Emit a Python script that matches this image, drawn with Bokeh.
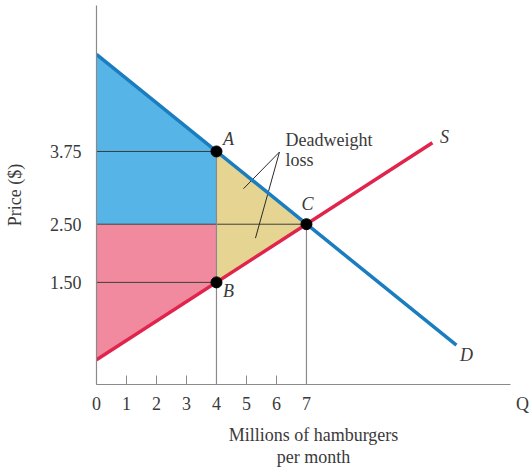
from bokeh.plotting import figure
from bokeh.models import Range1d, FixedTicker, LinearAxis
from bokeh.core.properties import value
from bokeh.embed import file_html
from bokeh.resources import INLINE

# ---- data ----
q_ticks = [0, 1, 2, 3, 4, 5, 6, 7]
q_axis_end = 13.8
q_axis_name_pos = 14.2
price_ticks = [3.75, 2.50, 1.50]
price_tick_labels = ["3.75", "2.50", "1.50"]

demand_q = [0, 12]
demand_p = [5.42, 0.42]
supply_q = [0, 11.2]
supply_p = [0.17, 3.90]

point_names = ["A", "B", "C"]
point_q = [4, 4, 7]
point_p = [3.75, 1.50, 2.50]

# regions
cs_q = [0, 4, 4, 0]           # consumer surplus (blue)
cs_p = [5.42, 3.75, 2.50, 2.50]
ps_q = [0, 4, 4, 0]           # producer surplus (pink)
ps_p = [2.50, 2.50, 1.50, 0.17]
dwl_q = [4, 7, 4]             # deadweight loss (yellow)
dwl_p = [3.75, 2.50, 1.50]

# leader lines for "Deadweight loss"
lead_q = [[6.1, 4.9], [6.1, 5.3]]
lead_p = [[3.74, 3.11], [3.74, 2.26]]

SERIF = "Liberation Serif"
FS = "18px"
TXT = "#3a3a3a"
AX = "#8a8a8a"

Y0 = -0.255
p = figure(width=530, height=469, title=None,
           x_range=Range1d(0, 14.47), y_range=Range1d(Y0, 6.259),
           x_axis_type=None,
           output_backend="svg", toolbar_location=None,
           min_border_left=96, min_border_right=0,
           min_border_top=5, min_border_bottom=81)
p.outline_line_color = None
p.grid.visible = False
p.background_fill_color = "white"

# y axis
p.yaxis.ticker = FixedTicker(ticks=price_ticks)
p.yaxis.major_label_overrides = dict(zip(price_ticks, price_tick_labels))
p.yaxis.axis_line_color = AX
p.yaxis.axis_line_width = 1.2
p.yaxis.major_tick_in = 0
p.yaxis.major_tick_out = 0
p.yaxis.minor_tick_line_color = None
p.yaxis.major_label_text_font = SERIF
p.yaxis.major_label_text_font_size = FS
p.yaxis.major_label_text_color = TXT
p.yaxis.major_label_standoff = 15
p.yaxis.axis_label = "Price ($)"
p.yaxis.axis_label_text_font = SERIF
p.yaxis.axis_label_text_font_size = FS
p.yaxis.axis_label_text_font_style = "normal"
p.yaxis.axis_label_text_color = TXT
p.yaxis.axis_label_standoff = 22

# x axis: line + inward ticks (no labels)
tick_axis = LinearAxis(ticker=FixedTicker(ticks=q_ticks), bounds=(0, q_axis_end))
tick_axis.axis_line_color = AX
tick_axis.axis_line_width = 1.2
tick_axis.major_tick_line_color = AX
tick_axis.major_tick_in = 9
tick_axis.major_tick_out = 0
tick_axis.minor_tick_line_color = None
tick_axis.major_label_text_color = None
tick_axis.major_label_text_font_size = "1px"
tick_axis.major_label_standoff = 0
p.add_layout(tick_axis, "below")

# x axis: tick labels, Q and title
label_axis = LinearAxis(ticker=FixedTicker(ticks=q_ticks + [q_axis_name_pos]))
label_axis.major_label_overrides = {q_axis_name_pos: "Q"}
label_axis.axis_line_color = None
label_axis.major_tick_line_color = None
label_axis.minor_tick_line_color = None
label_axis.major_tick_in = 0
label_axis.major_tick_out = 0
label_axis.major_label_text_font = SERIF
label_axis.major_label_text_font_size = FS
label_axis.major_label_text_color = TXT
label_axis.major_label_standoff = 9
label_axis.axis_label = "Millions of hamburgers\nper month"
label_axis.axis_label_text_font = SERIF
label_axis.axis_label_text_font_size = FS
label_axis.axis_label_text_font_style = "normal"
label_axis.axis_label_text_color = TXT
label_axis.axis_label_text_line_height = 1.1
label_axis.axis_label_standoff = 8
p.add_layout(label_axis, "below")

# filled regions
p.patch(cs_q, cs_p, fill_color="#56b4e6", line_color=None)
p.patch(ps_q, ps_p, fill_color="#f1899f", line_color=None)
p.patch(dwl_q, dwl_p, fill_color="#e6d492", line_color=None)

# reference lines
p.segment(x0=[0] * 3, y0=point_p, x1=point_q, y1=point_p,
          line_color="#3d3d3d", line_width=1)
p.segment(x0=[4, 7], y0=[Y0, Y0], x1=[4, 7], y1=[3.75, 2.50],
          line_color=AX, line_width=1.2)

# leader lines
p.multi_line(lead_q, lead_p, line_color="#2a2a2a", line_width=1)

# supply & demand
p.line(supply_q, supply_p, line_color="#e0244c", line_width=3.5)
p.line(demand_q, demand_p, line_color="#1a7dc0", line_width=3.5)

# points
p.scatter(point_q, point_p, size=11, color="black")

# letter labels
lab_kw = dict(text_font=value(SERIF), text_font_size=FS, text_font_style="italic",
              text_color=TXT, text_align="center", text_baseline="middle")
p.text(x=[point_q[0]], y=[point_p[0]], text=["A"], x_offset=12, y_offset=-12, **lab_kw)
p.text(x=[point_q[1]], y=[point_p[1]], text=["B"], x_offset=12, y_offset=9, **lab_kw)
p.text(x=[point_q[2]], y=[point_p[2]], text=["C"], x_offset=1, y_offset=-20, **lab_kw)
p.text(x=[demand_q[1]], y=[demand_p[1]], text=["D"], x_offset=10, y_offset=10, **lab_kw)
p.text(x=[supply_q[1]], y=[supply_p[1]], text=["S"], x_offset=12, y_offset=-6, **lab_kw)

dw_kw = dict(text_font=value(SERIF), text_font_size=FS, text_color=TXT,
             text_align="left", text_baseline="middle")
p.text(x=[6.3], y=[3.95], text=["Deadweight"], **dw_kw)
p.text(x=[6.3], y=[3.60], text=["loss"], **dw_kw)

open("out.html", "w").write(file_html(p, INLINE))
